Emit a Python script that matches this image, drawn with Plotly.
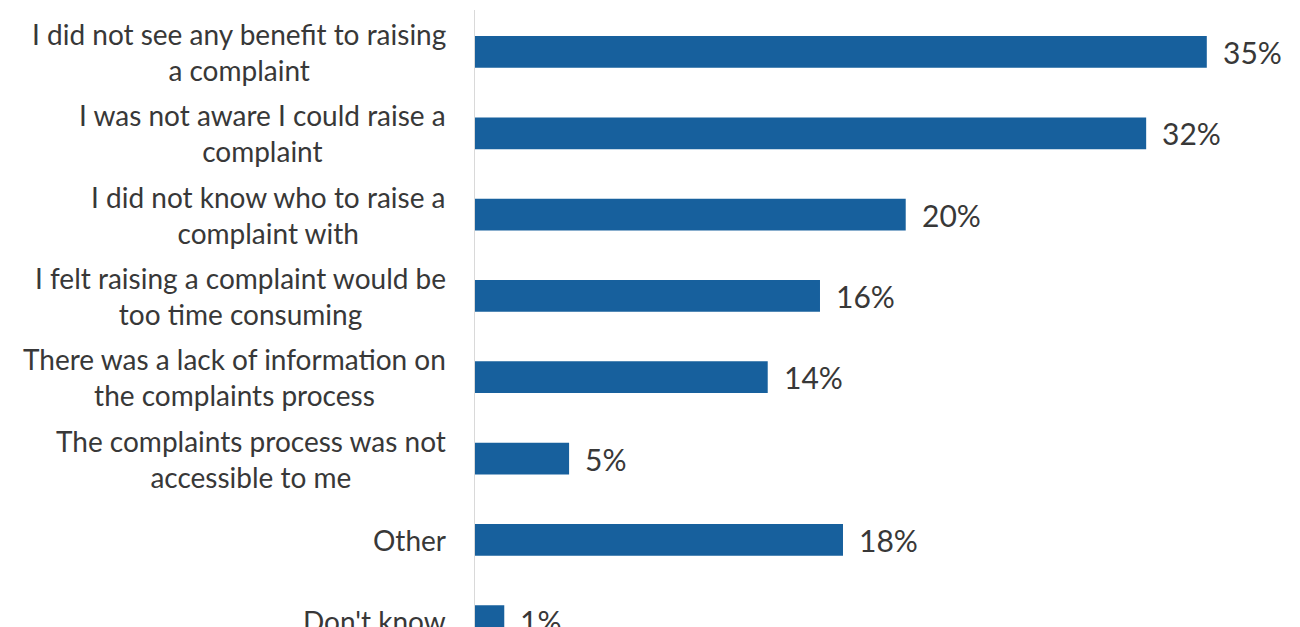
import plotly.graph_objects as go

# Причины, по которым не подавали жалобу (доля ответивших)
categories = [
    "I did not see any benefit to raising<br>a complaint",
    "I was not aware I could raise a<br>complaint",
    "I did not know who to raise a<br>complaint with",
    "I felt raising a complaint would be<br>too time consuming",
    "There was a lack of information on<br>the complaints process",
    "The complaints process was not<br>accessible to me",
    "Other",
    "Don't know",
]
values = [35.0, 32.1, 20.6, 16.5, 14.0, 4.5, 17.6, 1.4]
value_labels = ["35%", "32%", "20%", "16%", "14%", "5%", "18%", "1%"]

BAR_COLOR = "#17609D"
TEXT_COLOR = "#383838"
FONT = "Lato, 'Open Sans', sans-serif"

fig = go.Figure(
    go.Bar(
        x=values, y=categories, orientation="h",
        marker=dict(color=BAR_COLOR, line=dict(width=0)),
        width=0.39, hoverinfo="skip",
    )
)

annotations = []
for cat, val, lab in zip(categories, values, value_labels):
    # блок подписи прижат вправо, строки внутри по центру
    annotations.append(dict(
        x=0, y=cat, xref="x", yref="y", text=cat, showarrow=False,
        xanchor="right", yanchor="middle", align="center", xshift=-27,
        font=dict(family=FONT, size=28, color=TEXT_COLOR),
    ))
    annotations.append(dict(
        x=val, y=cat, xref="x", yref="y", text=lab, showarrow=False,
        xanchor="left", yanchor="middle", xshift=14,
        font=dict(family=FONT, size=30, color=TEXT_COLOR),
    ))

# страница добавляет 8px отступа body, поэтому поля чуть меньше
fig.update_layout(
    width=1300, height=627,
    margin=dict(l=467, r=0, t=2, b=0),
    paper_bgcolor="white", plot_bgcolor="white",
    showlegend=False,
    annotations=annotations,
    xaxis=dict(range=[0, 39.84], visible=False, fixedrange=True),
    yaxis=dict(
        type="category", categoryorder="array", categoryarray=categories,
        range=[7.17, -0.516], showticklabels=False, ticks="",
        showgrid=False, zeroline=False,
        showline=True, linecolor="#d9d9d9", linewidth=1,
    ),
)

fig.write_html("out.html")
